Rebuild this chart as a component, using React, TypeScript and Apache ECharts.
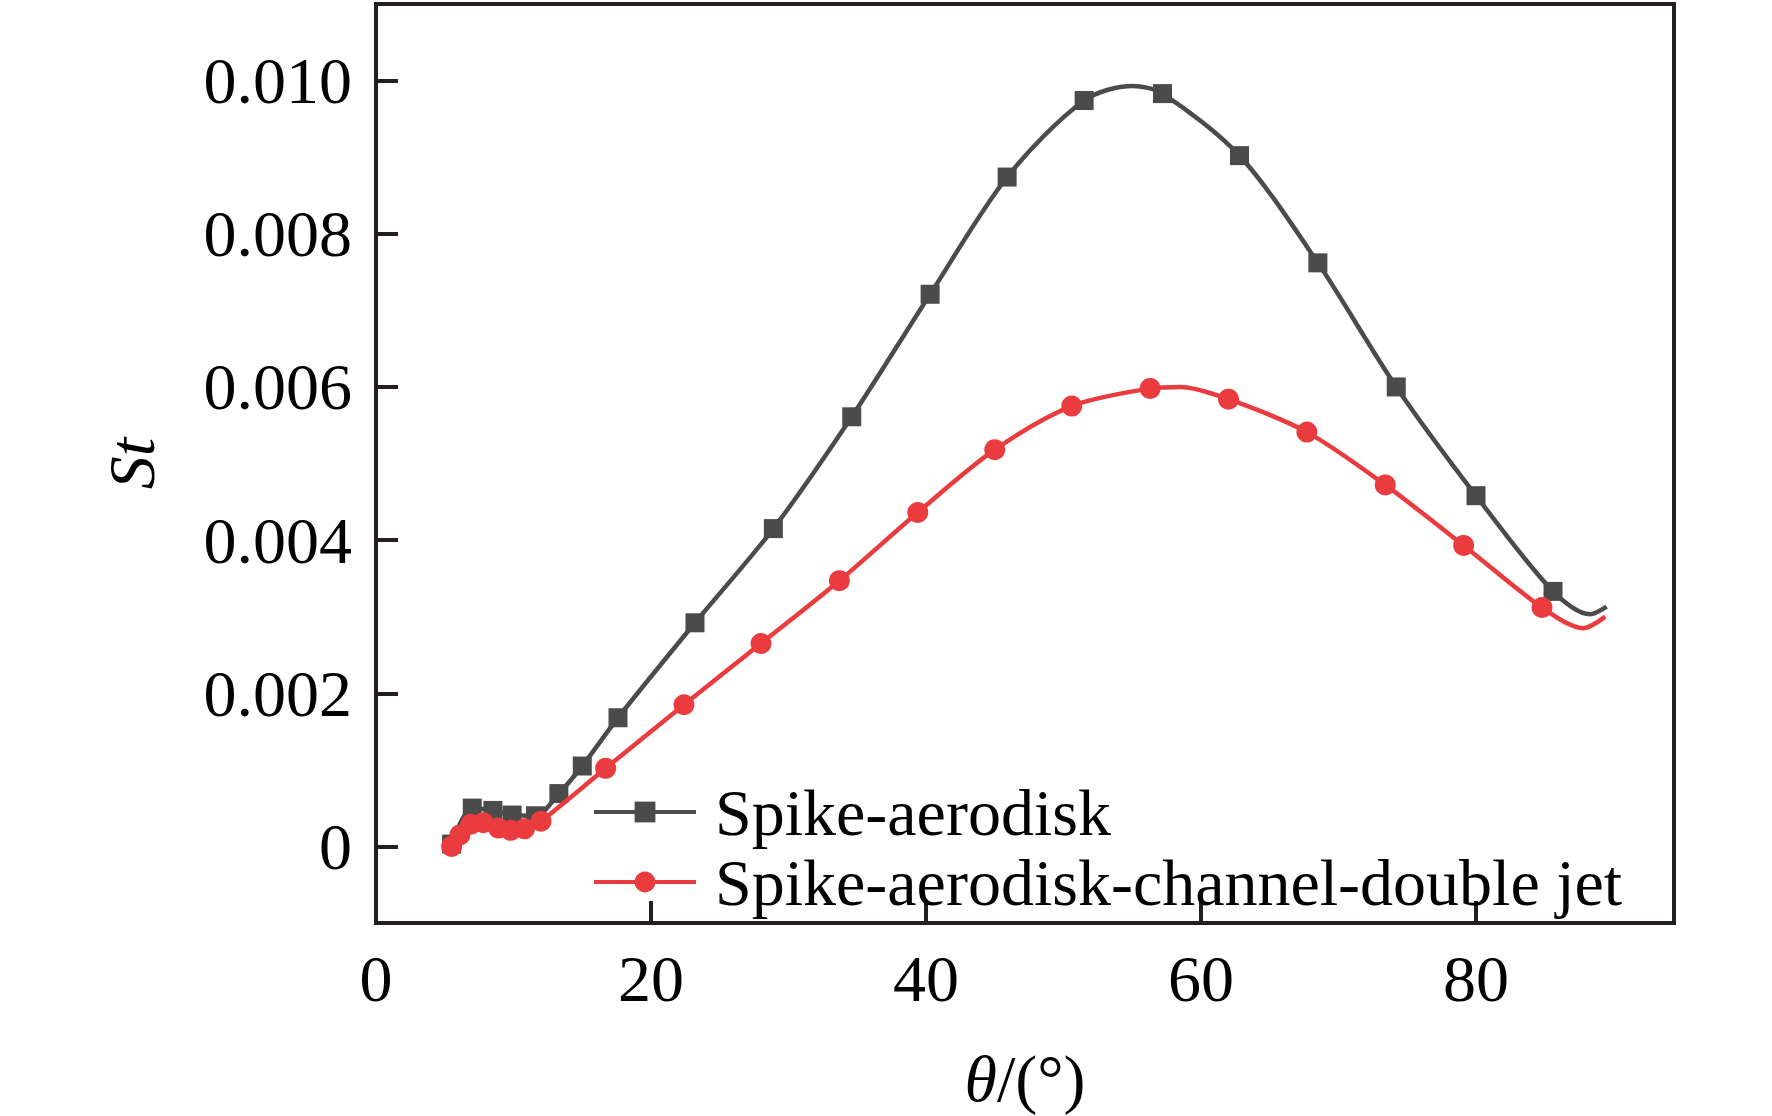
import React, { useEffect, useRef } from "react";
import * as echarts from "echarts";

const seriesNames = ["Spike-aerodisk", "Spike-aerodisk-channel-double jet"];

// Spike-aerodisk (squares); marked = 1 where a square marker is drawn
const blackTheta = [5.5, 7.0, 8.5, 9.9, 11.6, 13.3, 15.0, 17.6, 23.2, 28.9, 34.6, 40.3, 45.9, 51.5, 55.0, 57.2, 62.8, 68.5, 74.2, 80.0, 85.6, 88.3, 89.5];
const blackSt = [0.00003, 0.0005, 0.00047, 0.00041, 0.0004, 0.00069, 0.00105, 0.00168, 0.00292, 0.00415, 0.00561, 0.00721, 0.00874, 0.00974, 0.00993, 0.00983, 0.00902, 0.00762, 0.006, 0.00458, 0.00333, 0.00303, 0.00313];
const blackMarked = [1, 1, 1, 1, 1, 1, 1, 1, 1, 1, 1, 1, 1, 1, 0, 1, 1, 1, 1, 1, 1, 0, 0];

// Spike-aerodisk-channel-double jet (circles)
const redTheta = [5.5, 6.1, 6.9, 7.8, 8.9, 9.8, 10.8, 12.0, 16.7, 22.4, 28.0, 33.7, 39.4, 45.0, 50.6, 56.3, 58.5, 62.0, 67.7, 73.4, 79.1, 84.8, 87.8, 89.4];
const redSt = [0, 0.00015, 0.00029, 0.00031, 0.00024, 0.00021, 0.00023, 0.00033, 0.00102, 0.00185, 0.00265, 0.00347, 0.00436, 0.00518, 0.00575, 0.00598, 0.006, 0.00584, 0.00541, 0.00472, 0.00393, 0.00312, 0.00285, 0.003];
const redMarked = [1, 1, 1, 1, 1, 1, 1, 1, 1, 1, 1, 1, 1, 1, 1, 1, 0, 1, 1, 1, 1, 1, 0, 0];

const yTicks = [0, 0.002, 0.004, 0.006, 0.008, 0.01];
const xTicks = [0, 20, 40, 60, 80];

const FONT = "Liberation Serif";
const INK = "#231f20";
const BLACK_SERIES = "#4b4b4b";
const RED_SERIES = "#ea3c3f";

function build(xs: number[], ys: number[], marked: number[]) {
  return xs.map((x, i) =>
    marked[i] ? { value: [x, ys[i]] } : { value: [x, ys[i]], symbol: "none" }
  );
}

export default function App() {
  const ref = useRef<HTMLDivElement>(null);
  useEffect(() => {
    document.body.style.margin = "0";
    const chart = echarts.init(ref.current!, null, { renderer: "svg" });
    chart.setOption({
      animation: false,
      backgroundColor: "#ffffff",
      grid: {
        left: 376,
        top: 4,
        right: 98,
        bottom: 186,
        show: true,
        borderColor: INK,
        borderWidth: 4,
        backgroundColor: "transparent",
      },
      legend: {
        orient: "vertical",
        left: 587,
        top: 772,
        itemWidth: 102,
        itemHeight: 26,
        itemGap: 0,
        data: seriesNames,
        lineStyle: { width: 4 },
        textStyle: {
          fontFamily: FONT,
          fontSize: 66,
          color: "#000",
          lineHeight: 70,
          padding: [0, 0, 0, 14],
        },
      },
      xAxis: {
        type: "value",
        min: 0,
        max: 94.4,
        interval: 20,
        name: "{i|θ}{n|/(°)}",
        nameLocation: "middle",
        nameGap: 122,
        nameTextStyle: {
          fontFamily: FONT,
          fontSize: 66,
          color: "#000",
          rich: {
            i: { fontFamily: FONT, fontSize: 66, fontStyle: "italic", color: "#000" },
            n: { fontFamily: FONT, fontSize: 66, color: "#000" },
          },
        },
        axisLine: { show: true, onZero: false, lineStyle: { color: INK, width: 4 } },
        axisTick: { show: true, inside: true, length: 22, lineStyle: { color: INK, width: 4 }, customValues: xTicks },
        axisLabel: { fontFamily: FONT, fontSize: 66, color: "#000", margin: 22, customValues: xTicks },
        splitLine: { show: false },
      },
      yAxis: {
        type: "value",
        min: -0.001,
        max: 0.011,
        name: "St",
        nameLocation: "middle",
        nameGap: 212,
        nameTextStyle: { fontFamily: FONT, fontSize: 66, fontStyle: "italic", color: "#000" },
        axisLine: { show: true, onZero: false, lineStyle: { color: INK, width: 4 } },
        axisTick: { show: true, inside: true, length: 22, lineStyle: { color: INK, width: 4 }, customValues: yTicks },
        axisLabel: {
          fontFamily: FONT,
          fontSize: 66,
          color: "#000",
          margin: 24,
          customValues: yTicks,
          formatter: (v: number) => (Math.abs(v) < 1e-9 ? "0" : v.toFixed(3)),
        },
        splitLine: { show: false },
      },
      series: [
        {
          name: seriesNames[0],
          type: "line",
          smooth: 0.3,
          symbol: "rect",
          symbolSize: 19,
          showAllSymbol: true,
          color: BLACK_SERIES,
          lineStyle: { color: BLACK_SERIES, width: 4.5 },
          itemStyle: { color: BLACK_SERIES },
          data: build(blackTheta, blackSt, blackMarked),
          z: 2,
        },
        {
          name: seriesNames[1],
          type: "line",
          smooth: 0.3,
          symbol: "circle",
          symbolSize: 21,
          showAllSymbol: true,
          color: RED_SERIES,
          lineStyle: { color: RED_SERIES, width: 4.5 },
          itemStyle: { color: RED_SERIES },
          data: build(redTheta, redSt, redMarked),
          z: 3,
        },
      ],
    });
    return () => chart.dispose();
  }, []);
  return <div ref={ref} style={{ width: 1772, height: 1116 }} />;
}
